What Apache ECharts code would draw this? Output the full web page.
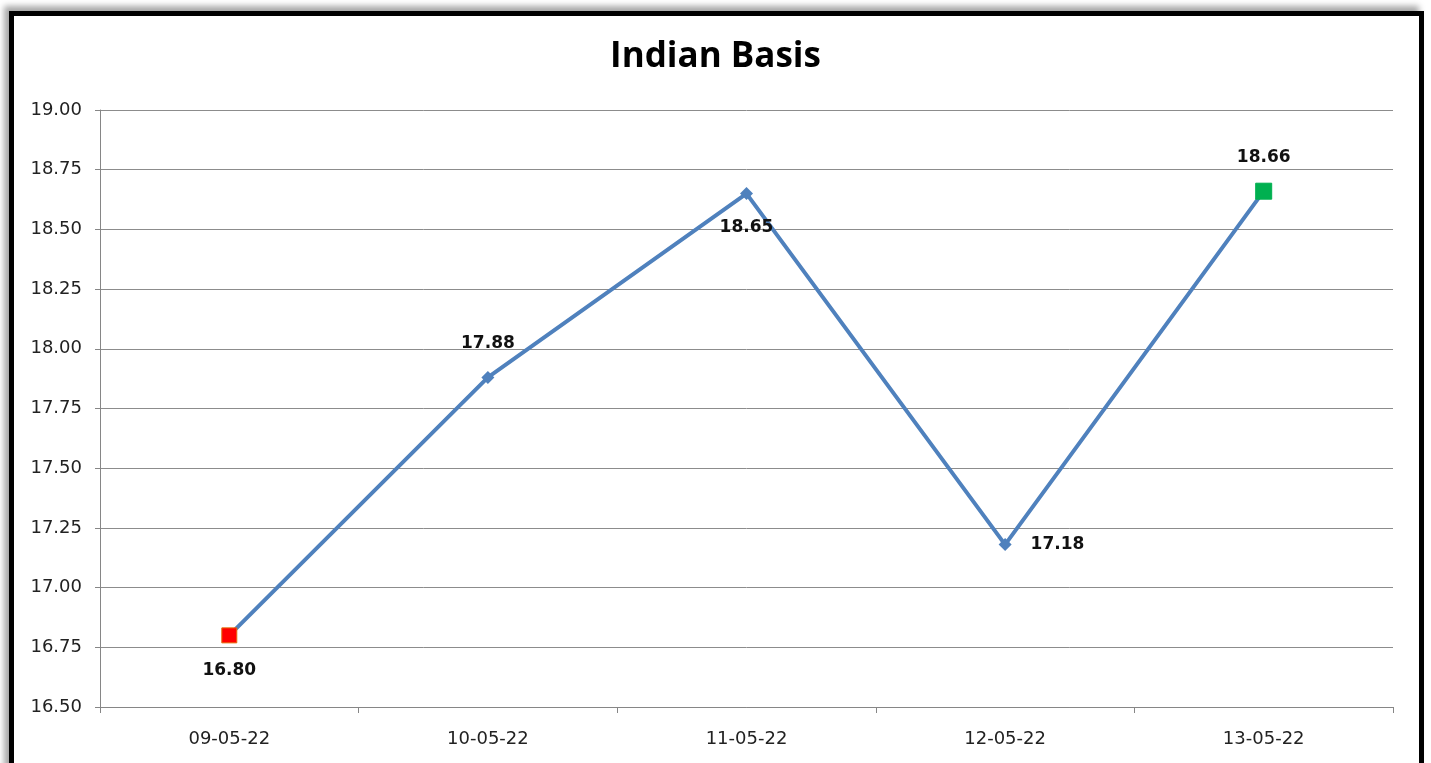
<!DOCTYPE html>
<html>
<head>
<meta charset="utf-8">
<title>Indian Basis</title>
<script src="https://cdn.jsdelivr.net/npm/echarts@6/dist/echarts.min.js"></script>
<style>
  html, body { margin: 0; padding: 0; background: #ffffff; width: 1431px; height: 763px; overflow: hidden; }
  #frame {
    position: absolute; left: 9px; top: 11px; width: 1405px; height: 770px;
    border: 5px solid #000; box-sizing: content-box;
    box-shadow: -5px -5px 6px rgba(0,0,0,0.35);
  }
  #chart { position: absolute; left: 0; top: 0; width: 1431px; height: 763px; }
</style>
</head>
<body>
<div id="frame"></div>
<div id="chart"></div>
<script>
// Daily basis values
const dates = ['09-05-22', '10-05-22', '11-05-22', '12-05-22', '13-05-22'];
const basis = [16.80, 17.88, 18.65, 17.18, 18.66];
// Where each value label sits relative to its point
const labelSides = ['bottom', 'top', 'bottom', 'right', 'top'];

const LINE = '#4F81BD';
const TITLE_FONT = '"Open Sans", "Noto Sans", sans-serif';
const FONT = '"DejaVu Sans", "Noto Sans", sans-serif';

const points = basis.map((v, i) => {
  const item = {
    value: v,
    label: { position: labelSides[i], distance: 19 }
  };
  if (i === 0) {
    item.symbol = 'rect'; item.symbolSize = 15;
    item.itemStyle = { color: '#FF0000', borderColor: '#E46C0A', borderWidth: 1 };
  } else if (i === basis.length - 1) {
    item.symbol = 'rect'; item.symbolSize = 16;
    item.itemStyle = { color: '#00B050', borderColor: '#00B050', borderWidth: 1 };
    item.label.distance = 17;
  }
  return item;
});

const chart = echarts.init(document.getElementById('chart'), null, { renderer: 'canvas' });
chart.setOption({
  animation: false,
  backgroundColor: 'transparent',
  title: {
    text: 'Indian Basis',
    left: 'center',
    top: 35,
    textStyle: { fontFamily: TITLE_FONT, fontWeight: 'bold', fontSize: 35, color: '#000' }
  },
  grid: { left: 100, right: 38, top: 110, bottom: 56, containLabel: false },
  xAxis: {
    type: 'category',
    data: dates,
    boundaryGap: true,
    axisLine: { lineStyle: { color: '#868686', width: 1 } },
    axisTick: { show: true, length: 6, alignWithLabel: false, lineStyle: { color: '#868686' } },
    axisLabel: { fontFamily: FONT, fontSize: 18, color: '#222', margin: 23 },
    splitLine: { show: false }
  },
  yAxis: {
    type: 'value',
    min: 16.5,
    max: 19.0,
    interval: 0.25,
    axisLine: { show: true, lineStyle: { color: '#868686', width: 1 } },
    axisTick: { show: true, length: 5, lineStyle: { color: '#868686' } },
    axisLabel: {
      fontFamily: FONT, fontSize: 18, color: '#222', margin: 18,
      formatter: v => v.toFixed(2)
    },
    splitLine: { show: true, lineStyle: { color: '#8C8C8C', width: 1 } }
  },
  series: [{
    type: 'line',
    data: points,
    symbol: 'diamond',
    symbolSize: 13,
    itemStyle: { color: LINE },
    lineStyle: { color: LINE, width: 4 },
    label: {
      show: true,
      fontFamily: FONT,
      fontWeight: 'bold',
      fontSize: 17,
      color: '#111',
      formatter: p => p.value.toFixed(2)
    },
    z: 3
  }]
});
</script>
</body>
</html>
